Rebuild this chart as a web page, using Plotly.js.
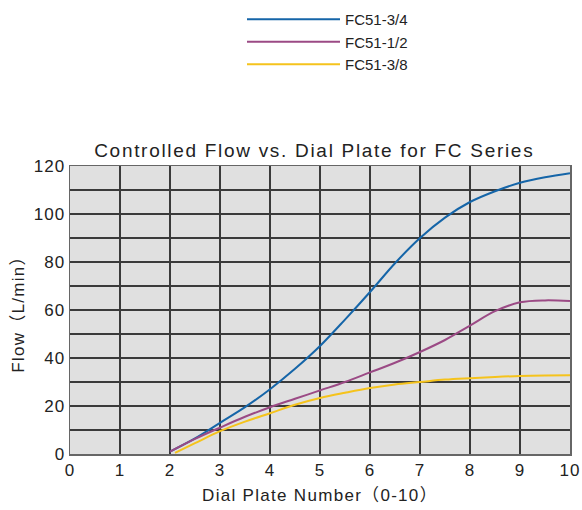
<!DOCTYPE html>
<html>
<head>
<meta charset="utf-8">
<script src="https://cdn.plot.ly/plotly-3.0.1.min.js"></script>
<style>
html,body{margin:0;padding:0;background:#fff;}
#chart{width:582px;height:510px;}
#chart .xtick text, #chart .ytick text{letter-spacing:1px;}
#chart text.xtitle, #chart text.ytitle{letter-spacing:1.3px;}
#chart text.gtitle{letter-spacing:1.7px;}
</style>
</head>
<body>
<div id="chart"></div>
<script>
const seriesNames = ["FC51-3/4", "FC51-1/2", "FC51-3/8"];
const seriesColors = ["#1565a8", "#9b4a85", "#f5c31c"];

const xBlue = [2, 2.5, 3, 3.5, 4, 4.5, 5, 5.5, 6, 6.5, 7, 7.5, 8, 8.5, 9, 9.5, 10];
const yBlue = [1, 6.5, 13, 19.5, 27, 35.5, 45, 56, 67.5, 79.5, 90, 98.5, 105, 109.5, 113, 115.3, 117];

const xPurple = [2, 2.5, 3, 3.5, 4, 4.5, 5, 5.5, 6, 6.5, 7, 7.5, 8, 8.5, 9, 9.5, 10];
const yPurple = [1, 6.3, 11, 15.5, 19.5, 23, 26.5, 30, 34, 38, 42.5, 47.5, 53.5, 59.5, 63.2, 64, 63.7];

const xYellow = [2.1, 2.5, 3, 3.5, 4, 4.5, 5, 5.5, 6, 6.5, 7, 7.5, 8, 8.5, 9, 9.5, 10];
const yYellow = [0.5, 4.5, 9.5, 13.5, 17, 20.5, 23.3, 25.5, 27.5, 29, 30, 31, 31.6, 32.1, 32.5, 32.7, 32.8];

const xTicks = [0, 1, 2, 3, 4, 5, 6, 7, 8, 9, 10];
const yGrid = [0, 10, 20, 30, 40, 50, 60, 70, 80, 90, 100, 110, 120];
const yLabels = ["0", "", "20", "", "40", "", "60", "", "80", "", "100", "", "120"];

const xs = [xBlue, xPurple, xYellow];
const ys = [yBlue, yPurple, yYellow];

const traces = seriesNames.map((n, i) => ({
  x: xs[i], y: ys[i], name: n, type: "scatter", mode: "lines",
  line: {color: seriesColors[i], width: 2, shape: "spline", smoothing: 1}
}));

const font = "Liberation Sans, Arial, Noto Sans CJK SC, sans-serif";

const layout = {
  width: 582, height: 510,
  margin: {l: 70, r: 12, t: 166, b: 56, autoexpand: false},
  paper_bgcolor: "#ffffff",
  plot_bgcolor: "#e0e0e0",
  font: {family: font, color: "#222", size: 17},
  title: {text: "Controlled Flow vs. Dial Plate for FC Series", x: 0.54, xanchor: "center", y: 0.705, yanchor: "middle", font: {size: 19, color: "#222"}},
  showlegend: true,
  legend: {x: 0.344, xanchor: "left", y: 1.566, yanchor: "top", itemwidth: 93, font: {size: 15, color: "#222"}, bgcolor: "rgba(0,0,0,0)", tracegroupgap: 0},
  xaxis: {
    range: [0, 10], tickvals: xTicks, ticktext: xTicks.map(String),
    showgrid: true, gridcolor: "#3a3a3a", gridwidth: 2,
    showline: true, linecolor: "#666", linewidth: 1.5, mirror: true,
    zeroline: false, ticks: "", ticklen: 0,
    tickfont: {size: 17},
    title: {text: "Dial Plate Number（0-10）", font: {size: 17}, standoff: 10}
  },
  yaxis: {
    range: [0, 120], tickvals: yGrid, ticktext: yLabels,
    showgrid: true, gridcolor: "#3a3a3a", gridwidth: 2,
    showline: true, linecolor: "#666", linewidth: 1.5, mirror: true,
    zeroline: false, ticks: "",
    tickfont: {size: 17},
    title: {text: "Flow（L/min）", font: {size: 17}, standoff: 8}
  }
};

Plotly.newPlot("chart", traces, layout, {displayModeBar: false, staticPlot: true});
</script>
</body>
</html>
